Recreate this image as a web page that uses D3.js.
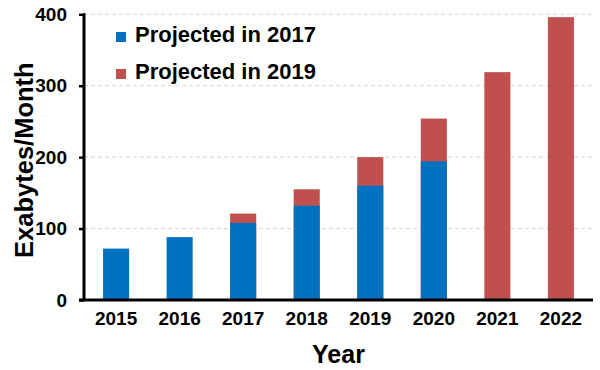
<!DOCTYPE html>
<html>
<head>
<meta charset="utf-8">
<script src="https://cdn.jsdelivr.net/npm/d3@7"></script>
<style>
  body { margin: 0; background: #fff; }
  svg { display: block; font-family: "Liberation Sans", Arial, sans-serif; font-weight: bold; }
</style>
</head>
<body>
<svg id="chart"></svg>
<script>
// data
var years = ["2015", "2016", "2017", "2018", "2019", "2020", "2021", "2022"];
var proj2017 = [72, 88, 108, 132, 160, 194, null, null];
var proj2019 = [null, null, 121, 155, 200, 254, 319, 396];
var yTicks = [0, 100, 200, 300, 400];
var legendLabels = ["Projected in 2017", "Projected in 2019"];

var colors = { blue: "#0070C0", red: "#C0504D" };

var config = {
  w: 600,
  h: 370,
  left: 84,
  right: 593,
  top: 14.3,
  bottom: 300
};

var svg = d3.select("#chart")
  .attr("width", config.w)
  .attr("height", config.h);

var x = d3.scaleBand()
  .domain(years)
  .range([config.left, config.right])
  .paddingInner(0.59)
  .paddingOuter(0.3);

var y = d3.scaleLinear()
  .domain([0, 400])
  .range([config.bottom, config.top]);

// dashed gridlines
svg.append("g")
  .selectAll("line")
  .data(yTicks.filter(function(d) { return d > 0; }))
  .enter()
  .append("line")
    .attr("x1", config.left)
    .attr("x2", config.right)
    .attr("y1", function(d) { return y(d); })
    .attr("y2", function(d) { return y(d); })
    .attr("stroke", "#d4d4d4")
    .attr("stroke-width", 1)
    .attr("stroke-dasharray", "4,3");

// red bars behind, blue in front
var rows = years.map(function(yr, i) {
  return { year: yr, a: proj2017[i], b: proj2019[i] };
});

svg.append("g")
  .selectAll("rect")
  .data(rows.filter(function(d) { return d.b != null; }))
  .enter()
  .append("rect")
    .attr("x", function(d) { return x(d.year); })
    .attr("width", x.bandwidth())
    .attr("y", function(d) { return y(d.b); })
    .attr("height", function(d) { return y(0) - y(d.b); })
    .attr("fill", colors.red);

svg.append("g")
  .selectAll("rect")
  .data(rows.filter(function(d) { return d.a != null; }))
  .enter()
  .append("rect")
    .attr("x", function(d) { return x(d.year); })
    .attr("width", x.bandwidth())
    .attr("y", function(d) { return y(d.a); })
    .attr("height", function(d) { return y(0) - y(d.a); })
    .attr("fill", colors.blue);

// y axis
var yAxis = svg.append("g")
  .attr("transform", "translate(" + config.left + ",0)")
  .call(d3.axisLeft(y).tickValues(yTicks).tickSize(5).tickPadding(12));
yAxis.select(".domain")
  .attr("d", "M0," + (config.top - 1) + "V" + config.bottom)
  .attr("stroke", "#000")
  .attr("stroke-width", 3);
yAxis.selectAll(".tick line").attr("stroke", "#000").attr("stroke-width", 2.5);
yAxis.selectAll(".tick text")
  .attr("font-size", 19)
  .attr("font-family", "'Liberation Sans', Arial, sans-serif")
  .attr("font-weight", "bold")
  .attr("fill", "#000");

// x axis
var xAxis = svg.append("g")
  .attr("transform", "translate(0," + config.bottom + ")")
  .call(d3.axisBottom(x).tickSize(0).tickPadding(12));
xAxis.select(".domain")
  .attr("d", "M" + (config.left - 5) + ",0H" + config.right)
  .attr("stroke", "#000")
  .attr("stroke-width", 3);
xAxis.selectAll(".tick text")
  .attr("font-size", 19)
  .attr("font-family", "'Liberation Sans', Arial, sans-serif")
  .attr("font-weight", "bold")
  .attr("fill", "#000")
  .attr("dy", "0.71em");

// axis titles
svg.append("text")
  .attr("x", (config.left + config.right) / 2)
  .attr("y", 363)
  .attr("text-anchor", "middle")
  .attr("font-size", 25)
  .text("Year");

svg.append("text")
  .attr("transform", "translate(33," + ((config.top + config.bottom) / 2 + 3) + ") rotate(-90)")
  .attr("text-anchor", "middle")
  .attr("font-size", 25.5)
  .text("Exabytes/Month");

// legend
var legend = svg.append("g")
  .selectAll("g")
  .data(legendLabels)
  .enter()
  .append("g")
    .attr("transform", function(d, i) { return "translate(116," + (42 + i * 37) + ")"; });

legend.append("rect")
  .attr("y", -10)
  .attr("width", 10)
  .attr("height", 10)
  .attr("fill", function(d, i) { return i == 0 ? colors.blue : colors.red; });

legend.append("text")
  .attr("x", 19)
  .attr("font-size", 22)
  .text(function(d) { return d; });
</script>
</body>
</html>
